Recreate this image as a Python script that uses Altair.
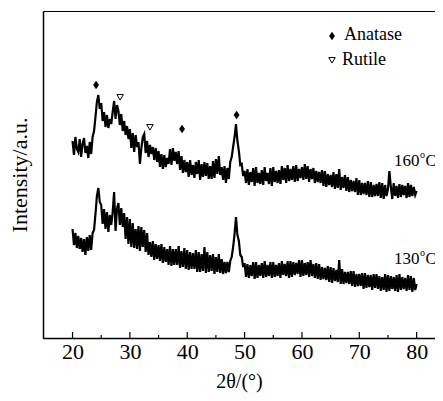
import altair as alt
import pandas as pd

# 2-theta grid (degrees), 0.25 deg steps from 20 to 80
two_theta_start = 20.0
two_theta_step = 0.25

# Intensity (a.u.), 160 °C sample
i160 = [
    197, 183, 201, 189,  # 20
    186, 199, 181, 194,  # 21
    200, 185, 192, 180,  # 22
    196, 184, 201, 207,  # 23
    221, 236, 243, 229,  # 24
    235, 217, 226, 211,  # 25
    223, 210, 219, 214,  # 26
    226, 237, 219, 233,  # 27
    227, 213, 224, 207,  # 28
    217, 203, 212, 199,  # 29
    209, 190, 205, 186,  # 30
    203, 191, 196, 174,  # 31
    190, 201, 204, 185,  # 32
    197, 181, 193, 184,  # 33
    191, 178, 190, 176,  # 34
    187, 171, 184, 169,  # 35
    183, 171, 180, 174,  # 36
    189, 173, 190, 177,  # 37
    186, 174, 187, 168,  # 38
    182, 165, 178, 166,  # 39
    176, 161, 178, 163,  # 40
    173, 160, 176, 164,  # 41
    178, 158, 174, 161,  # 42
    176, 162, 175, 159,  # 43
    172, 159, 177, 160,  # 44
    179, 164, 182, 163,  # 45
    171, 158, 172, 155,  # 46
    170, 159, 176, 181,  # 47
    191, 201, 214, 197,  # 48
    187, 173, 174, 162,  # 49
    167, 155, 169, 153,  # 50
    166, 156, 170, 152,  # 51
    171, 155, 165, 154,  # 52
    168, 153, 171, 157,  # 53
    165, 154, 170, 152,  # 54
    171, 156, 167, 155,  # 55
    168, 154, 172, 158,  # 56
    170, 155, 173, 157,  # 57
    169, 158, 172, 156,  # 58
    173, 157, 169, 160,  # 59
    171, 158, 174, 159,  # 60
    172, 156, 169, 159,  # 61
    170, 155, 167, 156,  # 62
    166, 155, 168, 152,  # 63
    167, 151, 164, 153,  # 64
    163, 151, 166, 149,  # 65
    164, 150, 169, 148,  # 66
    161, 150, 163, 147,  # 67
    161, 146, 158, 147,  # 68
    157, 146, 160, 143,  # 69
    158, 143, 155, 144,  # 70
    155, 143, 157, 141,  # 71
    156, 141, 153, 142,  # 72
    154, 142, 156, 140,  # 73
    155, 139, 153, 142,  # 74
    149, 167, 151, 139,  # 75
    155, 142, 152, 140,  # 76
    154, 141, 153, 143,  # 77
    152, 140, 155, 141,  # 78
    153, 142, 151, 143,  # 79
    147,                 # 80
]

# Intensity (a.u.), 130 °C sample
i130 = [
    109, 93, 105, 90,    # 20
    102, 89, 100, 86,    # 21
    99, 83, 101, 87,     # 22
    103, 88, 105, 108,   # 23
    124, 142, 150, 136,  # 24
    133, 114, 129, 109,  # 25
    126, 106, 123, 113,  # 26
    126, 146, 107, 129,  # 27
    135, 113, 130, 111,  # 28
    125, 99, 121, 94,    # 29
    119, 91, 115, 90,    # 30
    109, 89, 112, 87,    # 31
    111, 91, 108, 86,    # 32
    105, 83, 96, 81,     # 33
    97, 78, 94, 79,      # 34
    93, 77, 94, 75,      # 35
    91, 76, 89, 73,      # 36
    92, 72, 89, 73,      # 37
    89, 73, 92, 70,      # 38
    87, 71, 90, 69,      # 39
    88, 68, 86, 69,      # 40
    85, 69, 88, 66,      # 41
    86, 66, 84, 67,      # 42
    91, 65, 86, 66,      # 43
    83, 67, 84, 64,      # 44
    81, 66, 84, 65,      # 45
    79, 64, 76, 65,      # 46
    76, 66, 77, 81,      # 47
    91, 104, 121, 103,   # 48
    97, 83, 81, 71,      # 49
    75, 61, 74, 60,      # 50
    73, 62, 76, 59,      # 51
    76, 60, 73, 62,      # 52
    75, 60, 77, 61,      # 53
    73, 62, 76, 60,      # 54
    76, 61, 73, 62,      # 55
    75, 60, 77, 63,      # 56
    74, 62, 77, 60,      # 57
    77, 61, 76, 63,      # 58
    75, 64, 78, 61,      # 59
    78, 62, 75, 63,      # 60
    76, 61, 78, 62,      # 61
    74, 60, 75, 59,      # 62
    74, 58, 71, 59,      # 63
    70, 58, 72, 56,      # 64
    71, 55, 70, 57,      # 65
    68, 56, 78, 54,      # 66
    69, 54, 66, 55,      # 67
    66, 54, 67, 52,      # 68
    67, 51, 64, 52,      # 69
    64, 52, 65, 49,      # 70
    65, 50, 63, 51,      # 71
    63, 48, 64, 50,      # 72
    64, 49, 62, 47,      # 73
    61, 48, 64, 46,      # 74
    63, 47, 62, 49,      # 75
    61, 47, 63, 46,      # 76
    64, 48, 61, 49,      # 77
    60, 47, 63, 48,      # 78
    62, 46, 60, 48,      # 79
    54,                  # 80
]

# Phase markers (position, intensity)
anatase_x = [24.1, 39.1, 48.6]
anatase_y = [253, 209, 223]
rutile_x = [28.3, 33.5]
rutile_y = [241, 211]

major_ticks = [20, 30, 40, 50, 60, 70, 80]
minor_ticks = [25, 35, 45, 55, 65, 75]

FONT = "Liberation Serif, Times New Roman, serif"

rows = []
for name, vals in (("160", i160), ("130", i130)):
    for k, v in enumerate(vals):
        rows.append({"t": two_theta_start + two_theta_step * k, "I": v, "s": name})
df = pd.DataFrame(rows)

xs = alt.Scale(domain=[14.85, 83.2], nice=False, zero=False)
ys = alt.Scale(domain=[0, 327], nice=False, zero=False)

xaxis = alt.Axis(values=major_ticks, tickSize=0, labelPadding=3,
                 labelFont=FONT, labelFontSize=22, labelColor="black",
                 domainColor="black", domainWidth=1.5, grid=False,
                 title="2θ/(°)", titleFont=FONT, titleFontSize=20,
                 titleFontWeight="normal", titleColor="black",
                 titleBaseline="middle", titleY=43)
yaxis = alt.Axis(labels=False, ticks=False, grid=False,
                 domainColor="black", domainWidth=1.5,
                 title="Intensity/a.u.", titleFont=FONT, titleFontSize=22,
                 titleFontWeight="normal", titleColor="black", titlePadding=12)

lines = alt.Chart(df).mark_line(color="black", strokeWidth=2.2).encode(
    x=alt.X("t:Q", scale=xs, axis=xaxis),
    y=alt.Y("I:Q", scale=ys, axis=yaxis),
    detail="s:N",
)

maj = alt.Chart(pd.DataFrame({"t": major_ticks})).mark_rule(color="black", strokeWidth=1.2).encode(
    x=alt.X("t:Q", scale=xs), y=alt.value(327), y2=alt.value(321))
mnr = alt.Chart(pd.DataFrame({"t": minor_ticks})).mark_rule(color="black", strokeWidth=1.2).encode(
    x=alt.X("t:Q", scale=xs), y=alt.value(327), y2=alt.value(324))

diamond_path = "M0,-1.2L0.85,0L0,1.2L-0.85,0Z"
tri_path = "M-1,-0.75L1,-0.75L0,0.95Z"

anat = alt.Chart(pd.DataFrame({"t": anatase_x, "I": anatase_y})).mark_point(
    shape=diamond_path, filled=True, color="black", size=48, opacity=1).encode(
    x=alt.X("t:Q", scale=xs), y=alt.Y("I:Q", scale=ys))
rut = alt.Chart(pd.DataFrame({"t": rutile_x, "I": rutile_y})).mark_point(
    shape=tri_path, filled=False, color="black", strokeWidth=1, size=42, opacity=1).encode(
    x=alt.X("t:Q", scale=xs), y=alt.Y("I:Q", scale=ys))

one = pd.DataFrame({"a": [0]})
leg_d = alt.Chart(one).mark_point(shape=diamond_path, filled=True, color="black", size=48, opacity=1).encode(
    x=alt.value(289), y=alt.value(25))
leg_t = alt.Chart(one).mark_point(shape=tri_path, filled=False, color="black", strokeWidth=1, size=42, opacity=1).encode(
    x=alt.value(289), y=alt.value(49))
txt_style = dict(font=FONT, fontSize=18, color="black", align="left", baseline="middle")
leg_a = alt.Chart(one).mark_text(text="Anatase", **txt_style).encode(x=alt.value(301), y=alt.value(24))
leg_r = alt.Chart(one).mark_text(text="Rutile", **txt_style).encode(x=alt.value(299), y=alt.value(49))

num_style = dict(font=FONT, fontSize=17, color="black", align="left", baseline="middle")
c_style = dict(font=FONT, fontSize=16, color="black", align="left", baseline="middle")
sup_style = dict(font=FONT, fontSize=10, color="black", align="left", baseline="middle")
lab160 = alt.Chart(one).mark_text(text="160", **num_style).encode(x=alt.value(351), y=alt.value(150))
sup160 = alt.Chart(one).mark_text(text="o", **sup_style).encode(x=alt.value(377), y=alt.value(144))
c160 = alt.Chart(one).mark_text(text="C", **c_style).encode(x=alt.value(382.5), y=alt.value(150))
lab130 = alt.Chart(one).mark_text(text="130", **num_style).encode(x=alt.value(351), y=alt.value(248))
sup130 = alt.Chart(one).mark_text(text="o", **sup_style).encode(x=alt.value(377), y=alt.value(242))
c130 = alt.Chart(one).mark_text(text="C", **c_style).encode(x=alt.value(382.5), y=alt.value(248))

chart = alt.layer(lines, maj, mnr, anat, rut, leg_d, leg_t, leg_a, leg_r,
                  lab160, sup160, c160, lab130, sup130, c130).properties(
    width=392, height=327,
    autosize=alt.AutoSizeParams(type="none"),
    padding={"left": 35, "top": 3, "right": 0, "bottom": 55},
).configure_view(stroke="black", strokeWidth=1)

chart.save("out.html", embed_options={"renderer": "svg", "actions": False})
